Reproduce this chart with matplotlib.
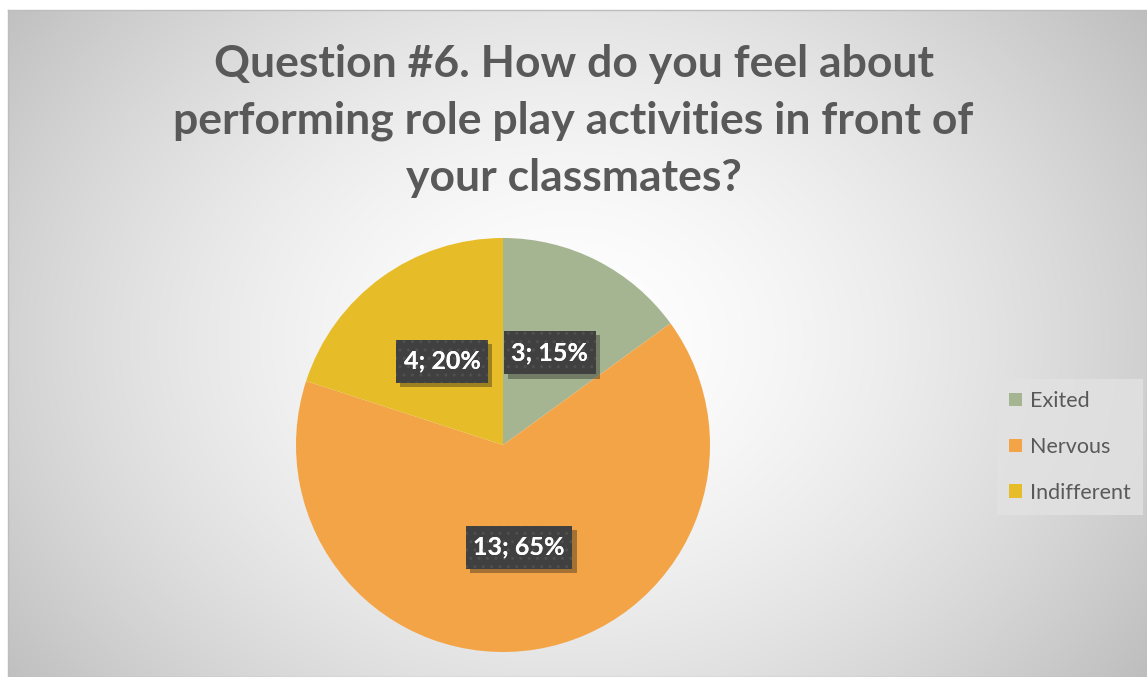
import matplotlib.pyplot as plt
import matplotlib.patheffects as pe
import numpy as np

labels = ['Exited', 'Nervous', 'Indifferent']
counts = [3, 13, 4]
colors = ['#A5B592', '#F3A447', '#E7BC29']
title = 'Question #6. How do you feel about\nperforming role play activities in front of\nyour classmates?'

plt.rcParams['font.family'] = ['Lato', 'DejaVu Sans']

W, H = 1147, 677
fig = plt.figure(figsize=(W / 100, H / 100), dpi=100)

# chart area background with radial gradient
bg = fig.add_axes([8 / W, 0, 1 - 8 / W, (H - 10) / H])
yy, xx = np.mgrid[0:667, 0:1139]
d = np.hypot(xx - 560, (yy - 330) * 1.25)
d = np.clip(d / 720.0, 0, 1)
shade = 1.0 - 0.26 * d ** 1.6
bg.imshow(np.dstack([shade] * 3), aspect='auto', extent=[0, 1, 0, 1])
bg.set_xticks([])
bg.set_yticks([])
for s in bg.spines.values():
    s.set_color('#bdbdbd')
    s.set_linewidth(1)

fig.text(0.5, (H - 121) / H, title, ha='center', va='center', fontsize=32,
         fontweight='bold', color='#595959', linespacing=1.5)

# pie
cx, cy, r = 503, 445, 207
ax = fig.add_axes([(cx - r) / W, (H - cy - r) / H, 2 * r / W, 2 * r / H])
total = sum(counts)


def fmt(p):
    n = int(round(p * total / 100))
    return f'{n}; {p:.0f}%'


wedges, _, autotexts = ax.pie(counts, colors=colors, startangle=90, counterclock=False,
                              autopct=fmt, pctdistance=0.5, radius=1,
                              wedgeprops=dict(linewidth=0))
ax.set_xlim(-1, 1)
ax.set_ylim(-1, 1)
ax.set_aspect('auto')
box = dict(boxstyle='square,pad=0.3', mutation_aspect=1.35, linewidth=0)
for t in autotexts:
    t.set_color('white')
    t.set_fontsize(18)
    t.set_fontweight('bold')
    t.set_bbox(dict(box, facecolor='#404040'))
    t.get_bbox_patch().set_path_effects([pe.SimplePatchShadow(offset=(3, -3), alpha=0.35),
                                         pe.Normal()])
    # dotted texture on top of the box
    x, y = t.get_position()
    ax.text(x, y, t.get_text(), ha='center', va='center', fontsize=18, fontweight='bold',
            color='white', zorder=t.get_zorder() + 1,
            bbox=dict(box, facecolor='none', edgecolor='#4f4f4f', hatch='..'))

leg = fig.legend(wedges, labels, loc='center left', bbox_to_anchor=(997 / W, (H - 447) / H),
                 frameon=True, fontsize=15.5, labelspacing=1.2, handlelength=0.6,
                 handleheight=0.6, handletextpad=0.4, borderpad=0.55, fancybox=False,
                 borderaxespad=0)
leg.get_frame().set_facecolor('#e2e2e2')
leg.get_frame().set_edgecolor('none')
for txt in leg.get_texts():
    txt.set_color('#595959')

fig.savefig('out.png', dpi=100)
